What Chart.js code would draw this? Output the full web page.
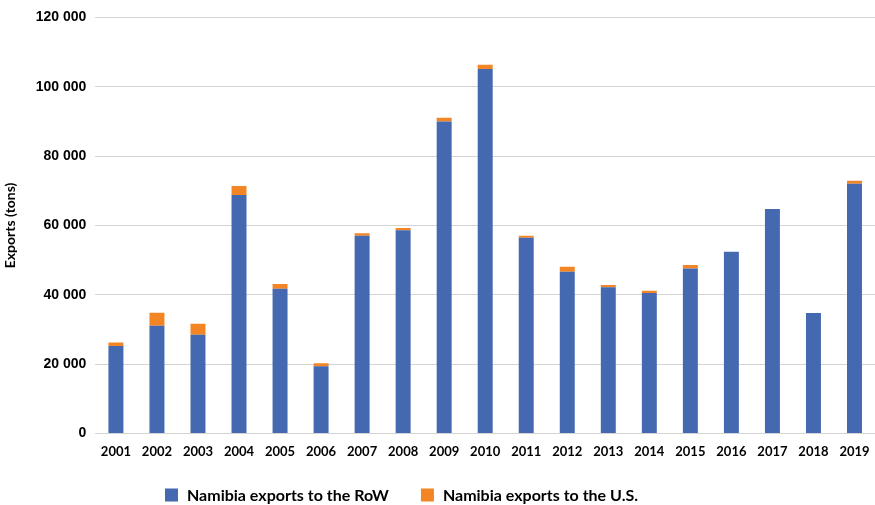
<!DOCTYPE html>
<html>
<head>
<meta charset="utf-8">
<script src="https://cdn.jsdelivr.net/npm/chart.js@4"></script>
<style>
    html, body { margin: 0; padding: 0; background: #fff; }
    #wrap { width: 875px; height: 505px; }
</style>
</head>
<body>
<div id="wrap"><canvas id="exportsChart" width="875" height="505"></canvas></div>
<script>
const years = ['2001', '2002', '2003', '2004', '2005', '2006', '2007', '2008', '2009', '2010',
    '2011', '2012', '2013', '2014', '2015', '2016', '2017', '2018', '2019'];

// tons
const exportsRoW = [25200, 31050, 28450, 68750, 41750, 19400, 57000, 58600, 90000, 105100,
    56450, 46650, 42150, 40500, 47600, 52400, 64700, 34700, 72050];
const exportsUS = [1050, 3750, 3150, 2600, 1350, 800, 700, 650, 1050, 1250,
    600, 1450, 650, 650, 950, 0, 0, 0, 800];

const fontFamily = 'Lato, "Open Sans", sans-serif';
const tickFamily = '"Liberation Sans", Arial, sans-serif';

// Thousands with a space, e.g. 120 000
const formatTons = v => v.toLocaleString('en-US').replace(/,/g, ' ');

// Legend row drawn under the axis, slightly left of centre like the original export
const bottomLegend = {
    id: 'bottomLegend',
    afterDraw(chart, args, opts) {
        const ctx = chart.ctx;
        ctx.save();
        ctx.font = `bold ${opts.fontSize}px ${fontFamily}`;
        ctx.textBaseline = 'middle';
        ctx.textAlign = 'left';
        let x = opts.x;
        chart.data.datasets.forEach(ds => {
            ctx.fillStyle = ds.backgroundColor;
            ctx.fillRect(x, opts.y - opts.box / 2, opts.box, opts.box);
            x += opts.box + opts.textGap;
            ctx.fillStyle = '#000';
            ctx.fillText(ds.label, x, opts.y + 1);
            x += ctx.measureText(ds.label).width + opts.itemGap;
        });
        ctx.restore();
    }
};

new Chart(document.getElementById('exportsChart'), {
    type: 'bar',
    data: {
        labels: years,
        datasets: [{
                label: 'Namibia exports to the RoW',
                data: exportsRoW,
                backgroundColor: '#4469b1',
                barPercentage: 0.73,
                categoryPercentage: 0.5
            },
            {
                label: 'Namibia exports to the U.S.',
                data: exportsUS,
                backgroundColor: '#f38524',
                barPercentage: 0.73,
                categoryPercentage: 0.5
            }
        ]
    },
    plugins: [bottomLegend],
    options: {
        responsive: false,
        animation: false,
        layout: { padding: { top: 12, right: 0, left: 2, bottom: 34 } },
        plugins: {
            legend: { display: false },
            bottomLegend: { x: 165, y: 495, box: 13, textGap: 9, itemGap: 32, fontSize: 16 },
            tooltip: {
                callbacks: { label: ctx => `${ctx.dataset.label}: ${formatTons(ctx.parsed.y)}` }
            }
        },
        scales: {
            x: {
                stacked: true,
                grid: { display: false, drawTicks: false },
                border: { display: false },
                // let the plot run to the right edge of the canvas
                afterFit: scale => {
                    scale.paddingLeft = 0;
                    scale.paddingRight = 0;
                },
                ticks: {
                    color: '#000',
                    padding: 11,
                    maxRotation: 0,
                    font: { family: fontFamily, size: 13, weight: 'bold' }
                }
            },
            y: {
                stacked: true,
                min: 0,
                max: 120000,
                border: { display: false },
                grid: { color: '#d4d4d4', lineWidth: 1, drawTicks: false },
                ticks: {
                    stepSize: 20000,
                    color: '#000',
                    padding: 9,
                    font: { family: tickFamily, size: 14, weight: 'bold' },
                    callback: value => formatTons(value)
                },
                title: {
                    display: true,
                    text: 'Exports (tons)',
                    color: '#000',
                    padding: { top: 0, bottom: 8 },
                    font: { family: fontFamily, size: 14, weight: 'bold' }
                }
            }
        }
    }
});
</script>
</body>
</html>
